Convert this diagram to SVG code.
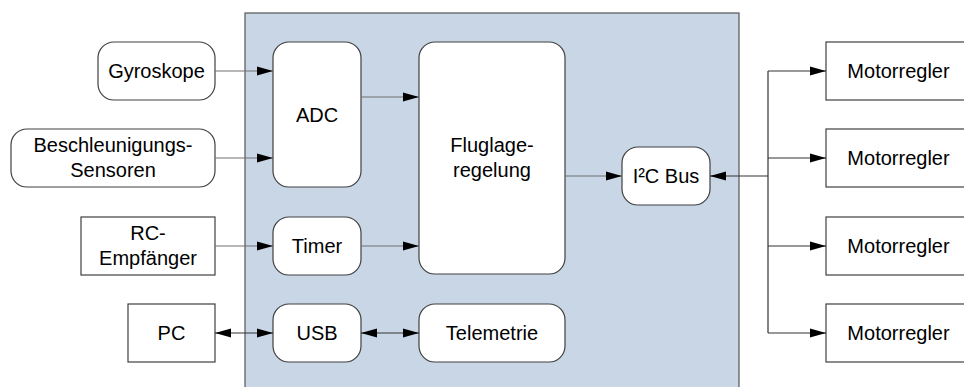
<svg xmlns="http://www.w3.org/2000/svg" width="964" height="387" viewBox="0 0 964 387">
<style>
.box{fill:#fff;stroke:#404040;stroke-width:1.2}
.panel{fill:#c8d6e6;stroke:#555;stroke-width:1.2}
text{font-family:"Liberation Sans",Arial,sans-serif;font-size:20px;fill:#000;text-anchor:middle}
.ln{fill:none;stroke:#707070;stroke-width:1.2}
.blk{fill:none;stroke:#333;stroke-width:1.2}
</style>
<defs>
<marker id="ah" markerWidth="16" markerHeight="10" refX="16" refY="5" orient="auto" markerUnits="userSpaceOnUse">
<path d="M0,0.5 L16,5 L0,9.5 Z" fill="#000"/>
</marker>
<marker id="as" markerWidth="16" markerHeight="10" refX="0" refY="5" orient="auto" markerUnits="userSpaceOnUse">
<path d="M16,0.5 L0,5 L16,9.5 Z" fill="#000"/>
</marker>
</defs>
<rect class="panel" x="245" y="13" width="494" height="390"/>
<g id="gyroskope"><rect class="box" x="98" y="42" width="117" height="58" rx="16"/><text x="156.5" y="78">Gyroskope</text></g>
<g id="beschleunigung"><rect class="box" x="11" y="129" width="204" height="58" rx="16"/><text x="113" y="152">Beschleunigungs-</text><text x="113" y="177">Sensoren</text></g>
<g id="rc"><rect class="box" x="81" y="217" width="134" height="58"/><text x="148" y="240">RC-</text><text x="148" y="265">Empfänger</text></g>
<g id="pc"><rect class="box" x="128" y="304" width="87" height="58"/><text x="171.5" y="340">PC</text></g>
<g id="adc"><rect class="box" x="273" y="42" width="88" height="145" rx="16"/><text x="317" y="122">ADC</text></g>
<g id="timer"><rect class="box" x="273" y="217" width="88" height="58" rx="16"/><text x="317" y="253">Timer</text></g>
<g id="usb"><rect class="box" x="273" y="304" width="88" height="58" rx="16"/><text x="317" y="340">USB</text></g>
<g id="fluglage"><rect class="box" x="419" y="42" width="146" height="232" rx="16"/><text x="492" y="152">Fluglage-</text><text x="492" y="177">regelung</text></g>
<g id="telemetrie"><rect class="box" x="419" y="304" width="146" height="58" rx="16"/><text x="492" y="340">Telemetrie</text></g>
<g id="i2c"><rect class="box" x="622" y="147" width="88" height="58" rx="16"/><text x="666" y="183">I²C Bus</text></g>
<g id="motor1"><rect class="box" x="826" y="42" width="145" height="58"/><text x="898.5" y="78">Motorregler</text></g>
<g id="motor2"><rect class="box" x="826" y="129" width="145" height="58"/><text x="898.5" y="165">Motorregler</text></g>
<g id="motor3"><rect class="box" x="826" y="217" width="145" height="58"/><text x="898.5" y="253">Motorregler</text></g>
<g id="motor4"><rect class="box" x="826" y="304" width="145" height="58"/><text x="898.5" y="340">Motorregler</text></g>
<g id="connectors">
<path class="ln" d="M215,71 H273" marker-end="url(#ah)"/>
<path class="ln" d="M215,158 H273" marker-end="url(#ah)"/>
<path class="ln" d="M361,97 H419" marker-end="url(#ah)"/>
<path class="ln" d="M215,246 H273" marker-end="url(#ah)"/>
<path class="ln" d="M361,246 H419" marker-end="url(#ah)"/>
<path class="ln" d="M565,176 H622" marker-end="url(#ah)"/>
<path class="blk" d="M215,333 H273" marker-start="url(#as)" marker-end="url(#ah)"/>
<path class="blk" d="M361,333 H419" marker-start="url(#as)" marker-end="url(#ah)"/>
<path class="blk" d="M768,176 H710" marker-end="url(#ah)"/>
<path class="blk" d="M768,71 V333"/>
<path class="blk" d="M768,71 H826" marker-end="url(#ah)"/>
<path class="blk" d="M768,158 H826" marker-end="url(#ah)"/>
<path class="blk" d="M768,246 H826" marker-end="url(#ah)"/>
<path class="blk" d="M768,333 H826" marker-end="url(#ah)"/>
</g>
</svg>
